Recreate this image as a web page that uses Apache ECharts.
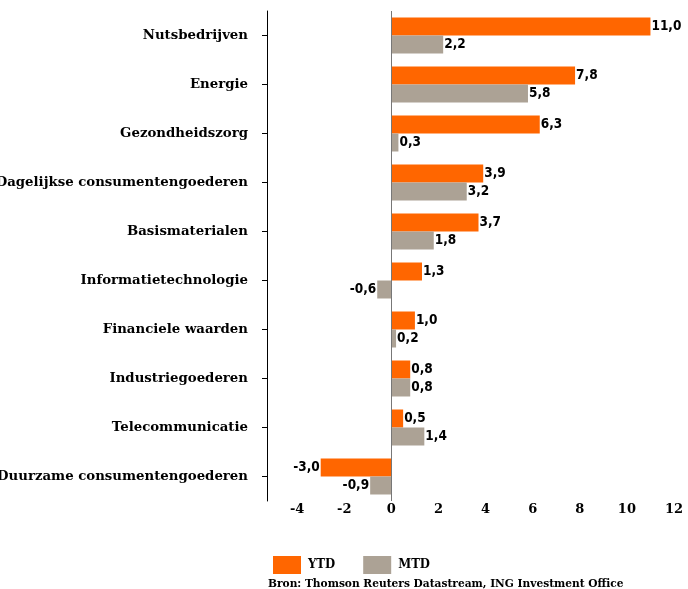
<!DOCTYPE html>
<html><head><meta charset="utf-8">
<script src="https://cdn.jsdelivr.net/npm/echarts@6/dist/echarts.min.js"></script>
<style>html,body{margin:0;padding:0;background:#fff}#c{width:688px;height:589px}</style>
</head><body><div id="c"></div>
<script>
const categories = ["Nutsbedrijven","Energie","Gezondheidszorg","Dagelijkse consumentengoederen","Basismaterialen","Informatietechnologie","Financiele waarden","Industriegoederen","Telecommunicatie","Duurzame consumentengoederen"];
const ytd = [11.0, 7.8, 6.3, 3.9, 3.7, 1.3, 1.0, 0.8, 0.5, -3.0];
const mtd = [2.2, 5.8, 0.3, 3.2, 1.8, -0.6, 0.2, 0.8, 1.4, -0.9];
const xTicks = [-4, -2, 0, 2, 4, 6, 8, 10, 12];
const source = "Bron: Thomson Reuters Datastream, ING Investment Office";

const serif = "'DejaVu Serif',serif";
const serifC = "'DejaVu Serif Condensed','DejaVu Serif',serif";
const narrow = "'Liberation Sans Narrow','DejaVu Sans Condensed',sans-serif";
const fmt = v => v.toFixed(1).replace('.', ',');
function mk(arr){
  return arr.map(v => ({value: v, label: {position: v < 0 ? 'left' : 'right'}}));
}
const lbl = {show: true, distance: 1, color: '#000', fontFamily: narrow, fontWeight: 'bold', fontSize: 13.5,
  formatter: p => fmt(p.value)};
const chart = echarts.init(document.getElementById('c'), null, {renderer: 'canvas'});
chart.setOption({
  animation: false,
  grid: {left: 267, right: 14, top: 11, bottom: 88, containLabel: false, outerBoundsMode: 'none'},
  legend: {left: 268, top: 551, itemWidth: 28, itemHeight: 18, itemGap: 28, icon: 'rect',
    textStyle: {fontFamily: serifC, fontWeight: 'bold', fontSize: 13, color: '#000', padding: [0, 0, 0, 2]},
    data: ['YTD', 'MTD']},
  title: {text: source, left: 263, top: 573,
    textStyle: {fontFamily: serifC, fontWeight: 'bold', fontSize: 11.8, color: '#000'}},
  xAxis: {type: 'value', min: -5.28, max: 12,
    axisLine: {show: false}, axisTick: {show: false}, splitLine: {show: false},
    axisLabel: {customValues: xTicks, fontFamily: serif, fontWeight: 'bold', fontSize: 13, color: '#000', margin: 2,
      formatter: v => String(v)}},
  yAxis: {type: 'category', inverse: true, data: categories,
    axisLine: {show: true, onZero: false, lineStyle: {color: '#000', width: 1}},
    axisTick: {show: true, alignWithLabel: true, length: 5, lineStyle: {color: '#000'}},
    axisLabel: {fontFamily: serif, fontWeight: 'bold', fontSize: 13.3, color: '#000', margin: 19}},
  series: [
    {name: 'YTD', type: 'bar', data: mk(ytd), barWidth: 18, barGap: '0%',
      itemStyle: {color: '#FF6600'}, label: lbl,
      markLine: {silent: true, symbol: 'none', label: {show: false},
        lineStyle: {color: '#777', type: 'solid', width: 1}, data: [{xAxis: 0}]}},
    {name: 'MTD', type: 'bar', data: mk(mtd), barWidth: 18,
      itemStyle: {color: '#ACA295'}, label: lbl}
  ]
});
</script></body></html>
